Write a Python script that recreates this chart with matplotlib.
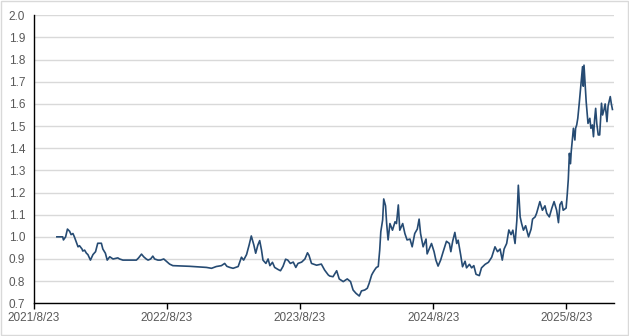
import numpy as np
import pandas as pd
import matplotlib
matplotlib.use("Agg")
from matplotlib import pyplot as plt
from matplotlib.patches import Rectangle

# values
dates = [
    "2021-10-26", "2021-11-11", "2021-11-13", "2021-11-19", "2021-11-24", "2021-11-30",
    "2021-12-04", "2021-12-09", "2021-12-13", "2021-12-18", "2021-12-23", "2021-12-27",
    "2022-01-03", "2022-01-05", "2022-01-10", "2022-01-15", "2022-01-19", "2022-01-26",
    "2022-02-02", "2022-02-09", "2022-02-15", "2022-02-25", "2022-03-01", "2022-03-08",
    "2022-03-13", "2022-03-20", "2022-03-29", "2022-04-11", "2022-04-16", "2022-04-25",
    "2022-06-01", "2022-06-07", "2022-06-15", "2022-06-21", "2022-06-28", "2022-07-03",
    "2022-07-10", "2022-07-16", "2022-07-21", "2022-07-30", "2022-08-06", "2022-08-15",
    "2022-08-22", "2022-08-31", "2022-09-09", "2022-10-25", "2022-12-10", "2022-12-24",
    "2023-01-06", "2023-01-20", "2023-01-29", "2023-02-04", "2023-02-12", "2023-02-21",
    "2023-03-07", "2023-03-16", "2023-03-22", "2023-03-30", "2023-04-06", "2023-04-12",
    "2023-04-19", "2023-04-24", "2023-04-30", "2023-05-05", "2023-05-10", "2023-05-14",
    "2023-05-22", "2023-05-28", "2023-06-02", "2023-06-09", "2023-06-15", "2023-06-24",
    "2023-07-01", "2023-07-08", "2023-07-15", "2023-07-21", "2023-07-28", "2023-08-05",
    "2023-08-12", "2023-08-18", "2023-08-28", "2023-09-06", "2023-09-13", "2023-09-17",
    "2023-09-24", "2023-10-08", "2023-10-21", "2023-10-30", "2023-11-09", "2023-11-13",
    "2023-11-22", "2023-12-02", "2023-12-09", "2023-12-20", "2023-12-31", "2024-01-09",
    "2024-01-16", "2024-01-24", "2024-02-02", "2024-02-08", "2024-02-17", "2024-02-24",
    "2024-02-29", "2024-03-07", "2024-03-11", "2024-03-16", "2024-03-20", "2024-03-25",
    "2024-03-29", "2024-04-01", "2024-04-06", "2024-04-09", "2024-04-14", "2024-04-17",
    "2024-04-21", "2024-04-26", "2024-05-03", "2024-05-10", "2024-05-14", "2024-05-19",
    "2024-05-23", "2024-05-31", "2024-06-06", "2024-06-12", "2024-06-20", "2024-06-26",
    "2024-07-03", "2024-07-10", "2024-07-15", "2024-07-19", "2024-07-26", "2024-08-03",
    "2024-08-06", "2024-08-14", "2024-08-18", "2024-08-25", "2024-08-30", "2024-09-05",
    "2024-09-12", "2024-09-19", "2024-09-28", "2024-10-06", "2024-10-10", "2024-10-15",
    "2024-10-21", "2024-10-26", "2024-10-30", "2024-11-06", "2024-11-11", "2024-11-18",
    "2024-11-22", "2024-11-30", "2024-12-06", "2024-12-12", "2024-12-18", "2024-12-27",
    "2025-01-02", "2025-01-12", "2025-01-21", "2025-01-30", "2025-02-08", "2025-02-15",
    "2025-02-22", "2025-02-28", "2025-03-05", "2025-03-12", "2025-03-18", "2025-03-24",
    "2025-03-29", "2025-04-04", "2025-04-09", "2025-04-13", "2025-04-18", "2025-04-22",
    "2025-04-27", "2025-05-03", "2025-05-11", "2025-05-18", "2025-05-22", "2025-05-29",
    "2025-06-02", "2025-06-11", "2025-06-18", "2025-06-25", "2025-06-30", "2025-07-07",
    "2025-07-14", "2025-07-20", "2025-07-27", "2025-08-01", "2025-08-05", "2025-08-10",
    "2025-08-14", "2025-08-22", "2025-08-25", "2025-08-28", "2025-08-31", "2025-09-03",
    "2025-09-05", "2025-09-08", "2025-09-11", "2025-09-15", "2025-09-17", "2025-09-20",
    "2025-09-23", "2025-09-27", "2025-10-01", "2025-10-06", "2025-10-08", "2025-10-10",
    "2025-10-13", "2025-10-16", "2025-10-21", "2025-10-26", "2025-10-29", "2025-11-02",
    "2025-11-05", "2025-11-08", "2025-11-11", "2025-11-14", "2025-11-18", "2025-11-22",
    "2025-11-27", "2025-11-30", "2025-12-04", "2025-12-07", "2025-12-12", "2025-12-15",
    "2025-12-21", "2025-12-24", "2025-12-27",
]
values = [
    1.000, 1.000, 0.986, 1.000, 1.035, 1.025,
    1.010, 1.015, 1.000, 0.978, 0.955, 0.960,
    0.945, 0.936, 0.940, 0.926, 0.920, 0.895,
    0.920, 0.933, 0.971, 0.971, 0.945, 0.926,
    0.895, 0.910, 0.900, 0.905, 0.900, 0.895,
    0.895, 0.905, 0.922, 0.910, 0.900, 0.895,
    0.900, 0.913, 0.900, 0.895, 0.895, 0.900,
    0.890, 0.877, 0.870, 0.867, 0.862, 0.858,
    0.866, 0.870, 0.880, 0.867, 0.862, 0.858,
    0.866, 0.908, 0.895, 0.920, 0.963, 1.004,
    0.963, 0.926, 0.963, 0.983, 0.940, 0.895,
    0.880, 0.900, 0.870, 0.885, 0.862, 0.853,
    0.847, 0.867, 0.899, 0.895, 0.880, 0.886,
    0.862, 0.880, 0.886, 0.900, 0.928, 0.917,
    0.880, 0.872, 0.877, 0.850, 0.828, 0.823,
    0.820, 0.847, 0.810, 0.798, 0.810, 0.798,
    0.760, 0.745, 0.733, 0.756, 0.760, 0.768,
    0.790, 0.828, 0.840, 0.853, 0.862, 0.866,
    0.940, 1.023, 1.076, 1.171, 1.140, 1.061,
    0.986, 1.060, 1.030, 1.068, 1.060, 1.144,
    1.030, 1.060, 1.015, 0.986, 0.990, 0.955,
    1.015, 1.035, 1.080, 1.015, 0.955, 0.990,
    0.923, 0.955, 0.970, 0.933, 0.895, 0.868,
    0.895, 0.933, 0.980, 0.970, 0.933, 0.980,
    1.020, 0.970, 0.985, 0.918, 0.865, 0.890,
    0.860, 0.876, 0.860, 0.870, 0.831, 0.825,
    0.860, 0.876, 0.885, 0.908, 0.955, 0.933,
    0.945, 0.895, 0.945, 0.970, 1.031, 1.010,
    1.030, 0.970, 1.076, 1.233, 1.090, 1.060,
    1.030, 1.050, 1.000, 1.035, 1.080, 1.090,
    1.106, 1.159, 1.120, 1.140, 1.106, 1.090,
    1.130, 1.159, 1.120, 1.064, 1.145, 1.159,
    1.120, 1.130, 1.190, 1.260, 1.377, 1.330,
    1.385, 1.437, 1.490, 1.437, 1.490, 1.505,
    1.535, 1.603, 1.678, 1.768, 1.680, 1.775,
    1.690, 1.610, 1.512, 1.535, 1.490, 1.505,
    1.452, 1.528, 1.580, 1.512, 1.460, 1.460,
    1.603, 1.550, 1.575, 1.600, 1.520, 1.590,
    1.633, 1.600, 1.575,
]

tick_dates = ["2021-08-23", "2022-08-23", "2023-08-23", "2024-08-23", "2025-08-23"]
tick_labels = ["2021/8/23", "2022/8/23", "2023/8/23", "2024/8/23", "2025/8/23"]
y_ticks = [0.7, 0.8, 0.9, 1.0, 1.1, 1.2, 1.3, 1.4, 1.5, 1.6, 1.7, 1.8, 1.9, 2.0]

plt.rcParams["font.family"] = ["Liberation Sans", "DejaVu Sans"]

fig = plt.figure(figsize=(6.29, 3.36), dpi=100, facecolor="w")
ax = fig.add_axes([0.0533, 0.0973, 0.9227, 0.8572])

ax.plot(pd.to_datetime(dates), values, color="#264B73", lw=1.2)

ax.set_ylim(0.7, 2.0)
ax.set_yticks(y_ticks)
ax.set_yticklabels(["%.1f" % v for v in y_ticks])
ax.set_xlim(pd.Timestamp("2021-08-23"), pd.Timestamp("2025-12-31"))
ax.set_xticks(pd.to_datetime(tick_dates))
ax.set_xticklabels(tick_labels)

ax.grid(axis="y", color="#D9D9D9", lw=1)
ax.set_axisbelow(True)
for side in ["top", "right"]:
    ax.spines[side].set_visible(False)
for side in ["left", "bottom"]:
    ax.spines[side].set_color("black")
    ax.spines[side].set_linewidth(1)
ax.tick_params(axis="y", length=0, pad=6, labelsize=8.5, labelcolor="#595959")
ax.tick_params(axis="x", length=4, width=1, pad=2, labelsize=8.5, labelcolor="#595959")

# thin frame around the whole chart, as in the source
fig.add_artist(Rectangle((0.001, 0.002), 0.997, 0.995, transform=fig.transFigure,
                         fill=False, edgecolor="#D9D9D9", lw=1))

fig.savefig("out.png", dpi=100)
